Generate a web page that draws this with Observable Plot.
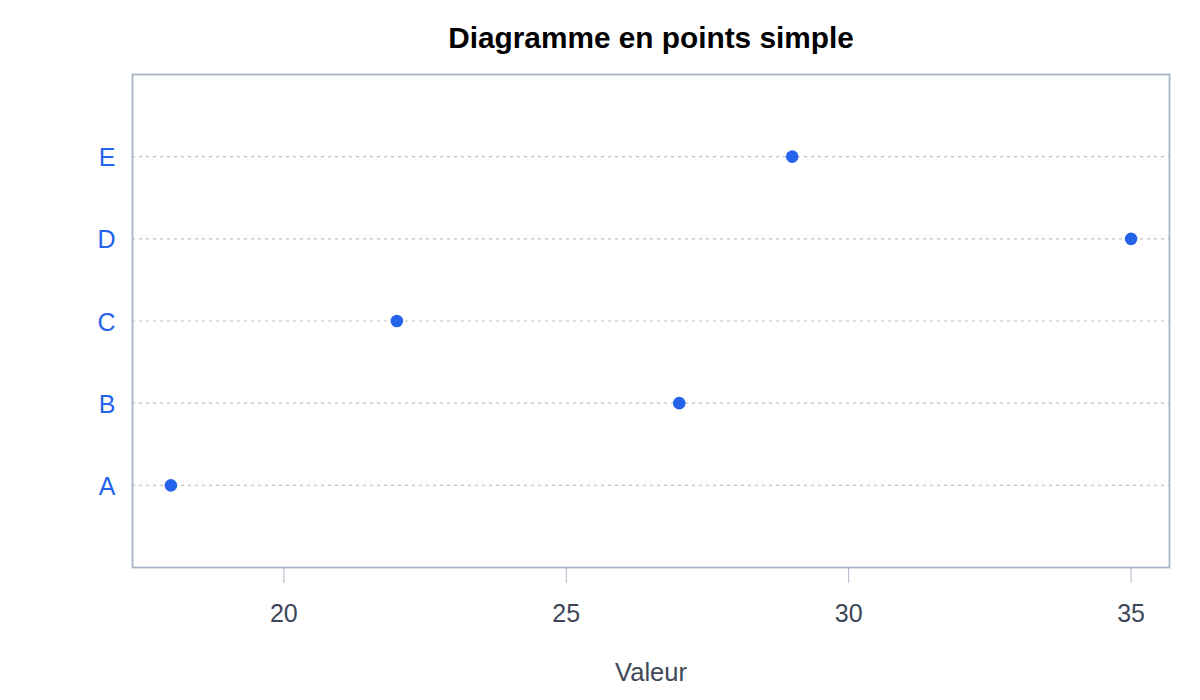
<!DOCTYPE html>
<html>
<head>
<meta charset="utf-8">
<script src="https://cdn.jsdelivr.net/npm/d3@7"></script>
<script src="https://cdn.jsdelivr.net/npm/@observablehq/plot@0.6"></script>
<style>
  html, body { margin: 0; padding: 0; background: #ffffff; }
  #chart svg { display: block; }
</style>
</head>
<body>
<div id="chart"></div>
<script>
const categories = ["A", "B", "C", "D", "E"];
const values = [18, 27, 22, 35, 29];
const xTicks = [20, 25, 30, 35];
const title = "Diagramme en points simple";
const xLabel = "Valeur";

const data = categories.map((c, i) => ({cat: c, pos: i + 1, value: values[i]}));
const positions = data.map(d => d.pos);

const font = "'Liberation Sans', Arial, Helvetica, sans-serif";

const chart = Plot.plot({
  width: 1200,
  height: 700,
  marginLeft: 132,
  marginRight: 31,
  marginTop: 74,
  marginBottom: 133,
  style: {fontFamily: font, fontSize: "25px", background: "#ffffff"},
  x: {domain: [17.32, 35.68], label: null},
  y: {domain: [0, 6], label: null},
  marks: [
    Plot.ruleY(positions, {stroke: "#c0c0c0", strokeWidth: 1.2, strokeDasharray: "3,4"}),
    Plot.frame({stroke: "#a9b5c5", strokeWidth: 1.8}),
    Plot.axisX({ticks: xTicks, tickSize: 16, tickPadding: 21, stroke: "#a9b5c5", color: "#3d4757", tickFormat: d => String(d), fontSize: 25, label: null}),
    Plot.axisY({ticks: positions, tickSize: 0, tickPadding: 17, dy: 1.5, tickFormat: p => categories[p - 1], color: "#2563eb", fontSize: 25, label: null}),
    Plot.dot(data, {x: "value", y: "pos", r: 6.3, fill: "#2563eb", stroke: "none"}),
    Plot.text([title], {frameAnchor: "top", dy: -36, lineAnchor: "middle", text: d => d, fontSize: 29.8, fontWeight: "bold", fill: "#000000"}),
    Plot.text([xLabel], {frameAnchor: "bottom", dy: 95, lineAnchor: "top", text: d => d, fontSize: 25.5, fill: "#3d4757"})
  ]
});
document.getElementById("chart").appendChild(chart);
</script>
</body>
</html>
